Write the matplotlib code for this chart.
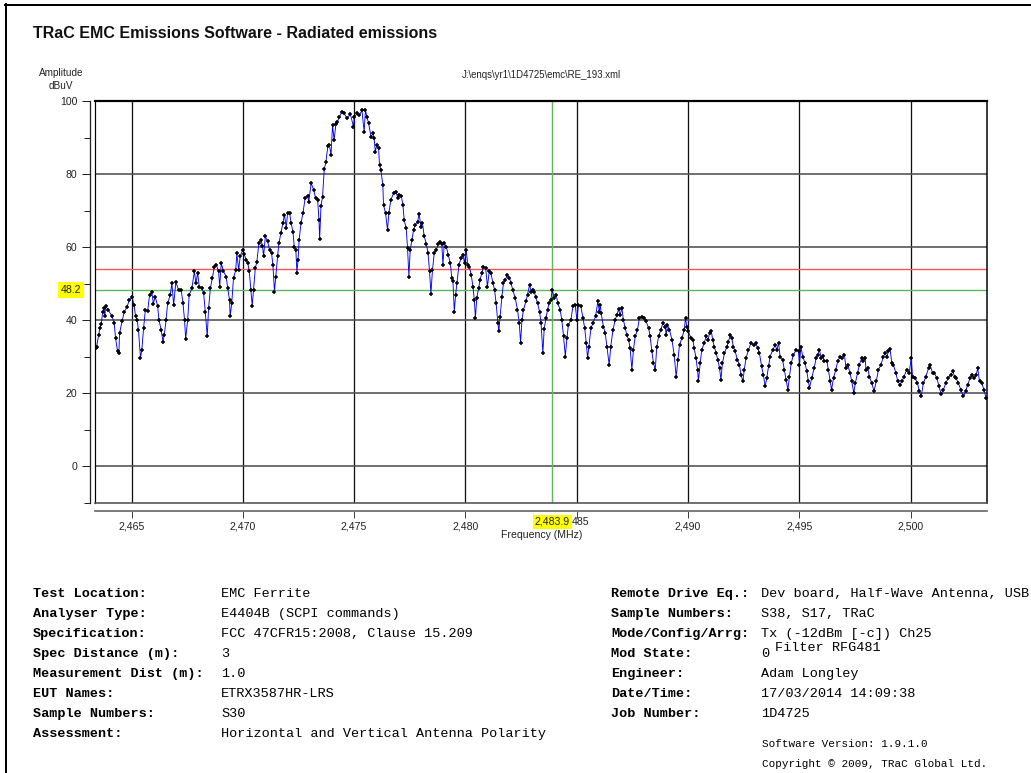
import matplotlib
matplotlib.use("Agg")
import matplotlib.pyplot as plt
from matplotlib.lines import Line2D
from matplotlib.ticker import FixedLocator

# ---- measurement trace (frequency in MHz, amplitude in dBuV) ----
freq_mhz = [
    2463.40, 2463.43, 2463.52, 2463.58, 2463.64, 2463.70, 2463.76, 2463.80, 2463.83, 2463.95,
    2464.12, 2464.22, 2464.28, 2464.37, 2464.43, 2464.46, 2464.57, 2464.67, 2464.79, 2464.90,
    2465.02, 2465.11, 2465.18, 2465.25, 2465.31, 2465.40, 2465.46, 2465.54, 2465.62, 2465.72,
    2465.81, 2465.91, 2465.98, 2466.06, 2466.17, 2466.23, 2466.33, 2466.41, 2466.47, 2466.55,
    2466.62, 2466.74, 2466.81, 2466.89, 2466.99, 2467.11, 2467.23, 2467.31, 2467.38, 2467.43,
    2467.52, 2467.59, 2467.71, 2467.82, 2467.89, 2467.97, 2468.04, 2468.16, 2468.24, 2468.31,
    2468.40, 2468.46, 2468.54, 2468.63, 2468.72, 2468.81, 2468.91, 2468.96, 2469.03, 2469.13,
    2469.25, 2469.32, 2469.40, 2469.43, 2469.50, 2469.58, 2469.68, 2469.73, 2469.81, 2469.88,
    2469.99, 2470.06, 2470.15, 2470.22, 2470.29, 2470.36, 2470.42, 2470.48, 2470.56, 2470.63,
    2470.72, 2470.81, 2470.88, 2470.93, 2471.01, 2471.11, 2471.20, 2471.29, 2471.35, 2471.42,
    2471.48, 2471.56, 2471.62, 2471.71, 2471.80, 2471.87, 2471.95, 2472.01, 2472.10, 2472.17,
    2472.25, 2472.31, 2472.38, 2472.43, 2472.48, 2472.53, 2472.61, 2472.70, 2472.80, 2472.91,
    2472.96, 2473.07, 2473.18, 2473.27, 2473.36, 2473.42, 2473.45, 2473.51, 2473.58, 2473.66,
    2473.73, 2473.82, 2473.89, 2473.96, 2474.03, 2474.10, 2474.18, 2474.25, 2474.34, 2474.45,
    2474.55, 2474.68, 2474.83, 2474.97, 2475.01, 2475.15, 2475.24, 2475.35, 2475.45, 2475.51,
    2475.57, 2475.65, 2475.76, 2475.84, 2475.90, 2475.95, 2476.02, 2476.10, 2476.14, 2476.20,
    2476.29, 2476.32, 2476.41, 2476.50, 2476.56, 2476.65, 2476.77, 2476.88, 2476.96, 2477.02,
    2477.12, 2477.19, 2477.25, 2477.34, 2477.40, 2477.46, 2477.52, 2477.60, 2477.67, 2477.74,
    2477.85, 2477.92, 2478.00, 2478.07, 2478.15, 2478.25, 2478.32, 2478.39, 2478.45, 2478.52,
    2478.60, 2478.69, 2478.79, 2478.87, 2478.94, 2478.99, 2479.05, 2479.14, 2479.23, 2479.32,
    2479.39, 2479.44, 2479.50, 2479.56, 2479.62, 2479.71, 2479.80, 2479.89, 2479.96, 2480.03,
    2480.11, 2480.18, 2480.26, 2480.34, 2480.40, 2480.45, 2480.51, 2480.59, 2480.66, 2480.74,
    2480.81, 2480.91, 2480.99, 2481.07, 2481.14, 2481.24, 2481.31, 2481.38, 2481.46, 2481.50,
    2481.56, 2481.64, 2481.71, 2481.79, 2481.89, 2481.98, 2482.05, 2482.13, 2482.24, 2482.34,
    2482.42, 2482.48, 2482.54, 2482.61, 2482.72, 2482.79, 2482.88, 2482.96, 2483.03, 2483.10,
    2483.15, 2483.24, 2483.33, 2483.40, 2483.48, 2483.54, 2483.62, 2483.69, 2483.76, 2483.84,
    2483.90, 2484.00, 2484.08, 2484.15, 2484.26, 2484.33, 2484.41, 2484.49, 2484.56, 2484.63,
    2484.74, 2484.83, 2484.93, 2485.01, 2485.08, 2485.19, 2485.28, 2485.36, 2485.43, 2485.49,
    2485.55, 2485.64, 2485.73, 2485.85, 2485.95, 2486.02, 2486.06, 2486.10, 2486.20, 2486.28,
    2486.36, 2486.46, 2486.53, 2486.63, 2486.73, 2486.80, 2486.88, 2486.95, 2487.03, 2487.10,
    2487.18, 2487.25, 2487.33, 2487.40, 2487.48, 2487.55, 2487.63, 2487.73, 2487.82, 2487.93,
    2488.03, 2488.12, 2488.23, 2488.30, 2488.38, 2488.45, 2488.53, 2488.60, 2488.68, 2488.78,
    2488.87, 2488.98, 2489.02, 2489.08, 2489.17, 2489.28, 2489.38, 2489.47, 2489.55, 2489.62,
    2489.73, 2489.83, 2489.89, 2489.95, 2490.02, 2490.13, 2490.22, 2490.28, 2490.36, 2490.43,
    2490.47, 2490.55, 2490.62, 2490.73, 2490.82, 2490.90, 2490.97, 2491.05, 2491.11, 2491.18,
    2491.27, 2491.34, 2491.42, 2491.48, 2491.55, 2491.64, 2491.75, 2491.82, 2491.90, 2491.97,
    2492.04, 2492.12, 2492.22, 2492.31, 2492.39, 2492.47, 2492.53, 2492.61, 2492.72, 2492.83,
    2492.95, 2493.05, 2493.13, 2493.21, 2493.31, 2493.39, 2493.47, 2493.54, 2493.62, 2493.69,
    2493.81, 2493.92, 2493.99, 2494.07, 2494.14, 2494.25, 2494.33, 2494.41, 2494.49, 2494.56,
    2494.64, 2494.74, 2494.86, 2494.97, 2495.01, 2495.07, 2495.16, 2495.26, 2495.34, 2495.41,
    2495.46, 2495.56, 2495.67, 2495.76, 2495.83, 2495.91, 2495.98, 2496.06, 2496.13, 2496.24,
    2496.31, 2496.39, 2496.45, 2496.54, 2496.64, 2496.73, 2496.84, 2496.94, 2497.03, 2497.10,
    2497.18, 2497.28, 2497.36, 2497.45, 2497.52, 2497.62, 2497.70, 2497.81, 2497.88, 2497.96,
    2498.00, 2498.08, 2498.15, 2498.26, 2498.36, 2498.46, 2498.56, 2498.67, 2498.78, 2498.86,
    2498.93, 2499.01, 2499.08, 2499.16, 2499.23, 2499.34, 2499.43, 2499.53, 2499.61, 2499.71,
    2499.83, 2499.94, 2500.03, 2500.09, 2500.21, 2500.31, 2500.40, 2500.48, 2500.58, 2500.69,
    2500.81, 2500.88, 2500.99, 2501.07, 2501.18, 2501.28, 2501.37, 2501.48, 2501.58, 2501.70,
    2501.81, 2501.90, 2501.98, 2502.05, 2502.15, 2502.26, 2502.38, 2502.48, 2502.57, 2502.68,
    2502.78, 2502.87, 2502.95, 2503.02, 2503.10, 2503.20, 2503.30, 2503.39,
]
level_dbuv = [
    32.3, 32.7, 35.9, 37.8, 38.9, 42.2, 43.2, 41.0, 43.7, 42.8,
    41.0, 39.1, 35.0, 31.4, 30.9, 36.4, 39.6, 42.2, 43.5, 45.5,
    46.2, 44.2, 41.0, 40.0, 37.3, 29.6, 31.8, 37.8, 42.8, 42.4,
    46.9, 47.6, 44.5, 46.4, 43.9, 40.0, 37.3, 34.1, 35.9, 40.0,
    44.6, 46.9, 50.1, 44.2, 50.4, 48.2, 48.2, 44.6, 40.0, 34.8,
    40.0, 46.9, 48.7, 53.3, 50.1, 52.9, 49.1, 48.7, 47.3, 42.3,
    35.5, 43.2, 48.7, 51.5, 54.6, 55.1, 53.3, 49.1, 55.6, 53.3,
    51.9, 48.7, 45.5, 41.1, 44.6, 51.5, 53.7, 58.3, 53.7, 57.4,
    59.2, 58.0, 56.5, 55.6, 53.3, 48.2, 43.9, 48.2, 54.2, 56.0,
    61.0, 62.0, 60.4, 57.4, 62.9, 61.6, 59.2, 58.3, 55.1, 47.8,
    51.9, 57.4, 61.0, 63.8, 66.5, 68.8, 65.3, 69.3, 69.4, 66.5,
    64.2, 60.1, 59.2, 53.0, 56.5, 62.0, 66.5, 69.3, 73.4, 74.0,
    72.4, 77.5, 75.7, 73.4, 72.9, 67.4, 62.1, 71.1, 73.8, 81.4,
    83.2, 87.7, 87.9, 85.2, 93.4, 89.3, 93.6, 94.3, 95.7, 97.1,
    96.6, 95.3, 96.4, 93.0, 95.7, 96.6, 96.2, 97.4, 91.6, 97.5,
    95.7, 93.9, 90.2, 91.1, 89.8, 86.1, 87.9, 87.0, 82.5, 81.1,
    77.0, 71.5, 69.3, 64.7, 69.3, 72.9, 74.7, 75.2, 73.4, 74.3,
    74.0, 71.5, 67.4, 65.1, 59.7, 51.9, 59.2, 62.0, 64.7, 66.1,
    66.9, 69.1, 65.6, 66.5, 62.9, 60.7, 58.3, 53.3, 47.2, 53.7,
    58.3, 59.2, 60.9, 61.5, 60.7, 55.1, 61.0, 60.1, 57.8, 55.6,
    51.5, 50.6, 42.3, 46.9, 50.1, 55.1, 56.9, 57.8, 55.6, 59.2,
    55.1, 54.6, 52.4, 49.1, 45.5, 40.5, 46.0, 48.7, 51.0, 53.0,
    54.6, 54.2, 49.1, 53.3, 52.9, 50.1, 48.2, 44.6, 39.1, 36.9,
    40.9, 46.4, 50.1, 51.0, 52.4, 51.5, 50.1, 48.2, 46.0, 42.8,
    39.1, 33.7, 40.0, 42.8, 45.1, 46.9, 49.6, 47.8, 48.2, 47.8,
    46.4, 44.6, 42.3, 39.1, 30.9, 37.6, 40.5, 42.8, 44.6, 45.5,
    48.2, 46.0, 46.9, 44.6, 42.8, 40.0, 35.5, 30.0, 35.0, 38.7,
    40.0, 43.7, 44.2, 40.1, 44.2, 43.7, 40.5, 37.8, 33.7, 29.6,
    32.7, 37.8, 39.1, 41.0, 45.1, 42.3, 44.2, 41.9, 38.2, 36.4,
    32.7, 27.7, 32.7, 37.3, 40.0, 41.4, 42.9, 41.4, 43.2, 40.0,
    37.8, 35.9, 34.6, 32.3, 26.4, 31.8, 35.5, 37.3, 40.5, 40.9,
    40.5, 39.6, 37.8, 35.5, 31.4, 28.2, 26.4, 32.7, 35.5, 37.3,
    39.1, 38.2, 35.9, 38.7, 37.3, 34.6, 30.5, 24.5, 29.1, 33.2,
    35.0, 37.3, 40.5, 38.2, 36.9, 35.0, 34.6, 32.3, 29.6, 26.4,
    23.2, 28.2, 31.8, 33.7, 35.5, 34.6, 36.4, 36.9, 34.6, 32.7,
    30.9, 29.1, 26.8, 23.6, 28.2, 30.9, 32.7, 34.1, 35.9, 35.0,
    32.7, 31.4, 29.1, 27.7, 24.9, 23.2, 26.4, 29.6, 31.8, 33.7,
    33.2, 33.7, 32.3, 30.9, 27.3, 24.9, 21.8, 24.1, 27.3, 30.0,
    31.8, 33.2, 31.8, 33.7, 30.0, 29.1, 26.4, 23.6, 20.9, 24.5,
    28.2, 30.5, 31.8, 31.4, 27.7, 32.7, 30.0, 28.2, 25.9, 23.2,
    21.4, 24.1, 26.8, 29.6, 30.5, 31.8, 29.6, 30.2, 28.7, 28.7,
    26.4, 23.2, 20.9, 24.1, 26.4, 28.7, 30.0, 29.6, 30.5, 26.8,
    27.7, 25.5, 23.2, 20.0, 22.7, 25.5, 27.7, 29.6, 28.7, 29.6,
    26.4, 26.8, 24.5, 22.7, 20.5, 23.2, 26.4, 27.7, 30.0, 30.9,
    30.0, 31.4, 32.0, 28.2, 27.7, 25.5, 23.2, 22.3, 23.2, 24.5,
    26.4, 25.5, 29.6, 24.5, 24.1, 22.7, 20.5, 19.1, 22.7, 24.5,
    26.8, 27.7, 25.5, 25.5, 24.1, 21.8, 19.8, 20.9, 22.7, 24.1,
    25.0, 25.9, 24.5, 24.1, 22.7, 20.9, 19.1, 20.5, 22.3, 24.1,
    24.8, 24.1, 25.0, 26.8, 23.2, 22.7, 20.9, 18.7,
]

# ---- limit / cursor values ----
limit_dbuv = 54.0
cursor_level = 48.2
cursor_freq = 2483.9

# ---- axis scales ----
x_range = (2463.37, 2503.45)
y_range = (-10, 100)
x_major = [2465, 2470, 2475, 2480, 2485, 2490, 2495, 2500]
y_major = [0, 20, 40, 60, 80, 100]
y_minor = [-10, 10, 30, 50, 70, 90]

title_text = "TRaC EMC Emissions Software - Radiated emissions"
file_path = "J:\\enqs\\yr1\\1D4725\\emc\\RE_193.xml"

left_labels = ["Test Location:", "Analyser Type:", "Specification:", "Spec Distance (m):",
               "Measurement Dist (m):", "EUT Names:", "Sample Numbers:", "Assessment:"]
left_values = ["EMC Ferrite", "E4404B (SCPI commands)", "FCC 47CFR15:2008, Clause 15.209", "3",
               "1.0", "ETRX3587HR-LRS", "S30", "Horizontal and Vertical Antenna Polarity"]
right_labels = ["Remote Drive Eq.:", "Sample Numbers:", "Mode/Config/Arrg:", "Mod State:",
                "Engineer:", "Date/Time:", "Job Number:"]
right_values = ["Dev board, Half-Wave Antenna, USB", "S38, S17, TRaC", "Tx (-12dBm [-c]) Ch25",
                "0", "Adam Longley", "17/03/2014 14:09:38", "1D4725"]
mode_extra = "Filter RFG481"
software_version = "Software Version: 1.9.1.0"
copyright_text = "Copyright \u00a9 2009, TRaC Global Ltd."

W, H = 1031, 773
fig = plt.figure(figsize=(W / 100, H / 100), dpi=100)
fig.patch.set_facecolor("white")

def fx(px):
    return px / W

def fy(py):
    return 1 - py / H

PT = 0.72  # points per pixel at 100 dpi

# page frame
fig.add_artist(Line2D([fx(5), fx(1031)], [fy(4.5), fy(4.5)], color="black", lw=2 * PT))
fig.add_artist(Line2D([fx(5.5), fx(5.5)], [fy(4), fy(773)], color="black", lw=2 * PT))

ax_l, ax_r, ax_t, ax_b = 95.3, 987.3, 101.0, 502.5
ax = fig.add_axes([fx(ax_l), fy(ax_b), fx(ax_r - ax_l), (ax_b - ax_t) / H])
ax.set_xlim(*x_range)
ax.set_ylim(*y_range)

# grid
for xv in x_major:
    ax.axvline(xv, color="#111111", lw=1.3 * PT, zorder=1)
for yv in y_major[:-1]:
    ax.axhline(yv, color="#505050", lw=1.6 * PT, zorder=1)

# limit and cursor lines
ax.axhline(limit_dbuv, color="#ff5555", lw=1.4 * PT, zorder=2)
ax.axhline(cursor_level, color="#5cb85c", lw=1.4 * PT, zorder=2)
ax.axvline(cursor_freq, color="#5cb85c", lw=1.4 * PT, zorder=2)

# trace
ax.plot(freq_mhz, level_dbuv, color="#0000ff", lw=0.9 * PT, zorder=3)
ax.plot(freq_mhz, level_dbuv, ls="none", marker="+", ms=3.2, mew=1.1,
        color="black", zorder=4)

# plot frame
ax.spines["top"].set_linewidth(2.2 * PT)
ax.spines["top"].set_color("black")
ax.spines["right"].set_linewidth(1.5 * PT)
ax.spines["right"].set_color("black")
ax.axvline(x_range[0], color="black", lw=1.2 * PT, zorder=5, clip_on=False)
ax.axhline(y_range[0], color="#505050", lw=1.6 * PT, zorder=5, clip_on=False)

# detached axis lines
ax.spines["left"].set_position(("outward", 3.6))
ax.spines["left"].set_linewidth(1.3 * PT)
ax.spines["left"].set_color("#222222")
ax.spines["bottom"].set_position(("outward", 6))
ax.spines["bottom"].set_linewidth(1.8 * PT)
ax.spines["bottom"].set_color("#707070")

ax.yaxis.set_major_locator(FixedLocator(y_major))
ax.yaxis.set_minor_locator(FixedLocator(y_minor))
ax.set_yticklabels([str(v) for v in y_major])
ax.xaxis.set_major_locator(FixedLocator(x_major))
# the cursor readout box sits over the left part of the tick label under it,
# so only the uncovered tail of that label is drawn
covered_tick = min(x_major, key=lambda v: abs(v - cursor_freq))
ax.set_xticklabels(["" if v == covered_tick else f"{v:,}" for v in x_major])

ax.tick_params(axis="y", which="major", direction="out", length=6 * PT * 1.39,
               width=1.0 * PT, color="#222222", pad=3.5, labelsize=7.6, labelcolor="#222222")
ax.tick_params(axis="y", which="minor", direction="out", length=4 * PT * 1.39,
               width=1.0 * PT, color="#222222")
ax.tick_params(axis="x", which="major", direction="out", length=5 * PT * 1.39,
               width=1.0 * PT, color="#444444", pad=3.0, labelsize=7.6, labelcolor="#222222")
for lab in ax.get_xticklabels() + ax.get_yticklabels():
    lab.set_family("Liberation Sans")

# highlighted cursor readouts
ax.annotate(f"{cursor_level}", xy=(0, cursor_level), xycoords=("axes fraction", "data"),
            xytext=(-14 * PT, 0), textcoords="offset points", ha="right", va="center",
            fontsize=7.6, family="Liberation Sans", color="#222222", zorder=10,
            annotation_clip=False,
            bbox=dict(boxstyle="square,pad=0.3", fc="#ffff00", ec="none"))
ax.annotate(f"{cursor_freq:,.1f}", xy=(cursor_freq, 0), xycoords=("data", "axes fraction"),
            xytext=(0, -19.5 * PT), textcoords="offset points", ha="center", va="center",
            fontsize=7.6, family="Liberation Sans", color="#222222", zorder=10,
            annotation_clip=False,
            bbox=dict(boxstyle="square,pad=0.2", fc="#ffff00", ec="none"))
tail = f"{covered_tick:,}"[2:]
ax.annotate(tail, xy=(cursor_freq, 0), xycoords=("data", "axes fraction"),
            xytext=(19.5 * PT, -19.5 * PT), textcoords="offset points", ha="left", va="center",
            fontsize=7.6, family="Liberation Sans", color="#222222", zorder=9,
            annotation_clip=False)

# axis titles and header
fig.text(fx(541.3), fy(535), "Frequency (MHz)", ha="center", va="center",
         fontsize=7.6, family="Liberation Sans", color="#222222")
fig.text(fx(61), fy(73.5), "Amplitude", ha="center", va="center",
         fontsize=7.2, family="Liberation Sans", color="#222222")
fig.text(fx(61), fy(86), "dBuV", ha="center", va="center",
         fontsize=7.2, family="Liberation Sans", color="#222222")
fig.text(fx(541.3), fy(75), file_path, ha="center", va="center",
         fontsize=6.9, family="Liberation Sans", color="#222222")
fig.text(fx(33), fy(34), title_text, ha="left", va="center",
         fontsize=11.5, family="Liberation Sans", weight="bold", color="#111111")

# information table
mono = "Liberation Mono"
fs_table = 9.7
row_y = [594, 614, 634, 654, 674, 694, 714, 734]
for i, (lab, val) in enumerate(zip(left_labels, left_values)):
    fig.text(fx(33), fy(row_y[i]), lab, ha="left", va="center", fontsize=fs_table,
             family=mono, weight="bold", color="black")
    fig.text(fx(221), fy(row_y[i]), val, ha="left", va="center", fontsize=fs_table,
             family=mono, color="black")
for i, (lab, val) in enumerate(zip(right_labels, right_values)):
    fig.text(fx(611), fy(row_y[i]), lab, ha="left", va="center", fontsize=fs_table,
             family=mono, weight="bold", color="black")
    fig.text(fx(761), fy(row_y[i]), val, ha="left", va="center", fontsize=fs_table,
             family=mono, color="black")
fig.text(fx(775), fy(648), mode_extra, ha="left", va="center", fontsize=fs_table,
         family=mono, color="black")
fig.text(fx(762), fy(744), software_version, ha="left", va="center", fontsize=7.9,
         family=mono, color="black")
fig.text(fx(762), fy(764), copyright_text, ha="left", va="center", fontsize=7.9,
         family=mono, color="black")

fig.savefig("out.png", dpi=100, facecolor="white")
